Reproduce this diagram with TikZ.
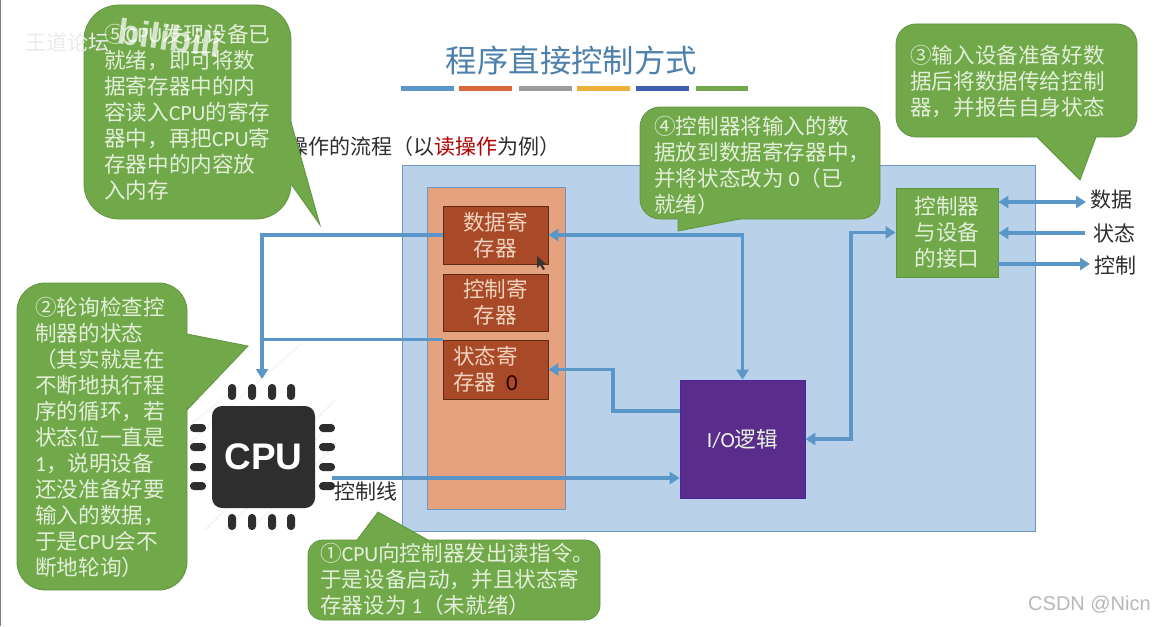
\documentclass[tikz,border=0pt]{standalone}
\usepackage{fontspec}
\setmainfont{Noto Sans CJK SC}
\newfontfamily\latf{Carlito}
\newfontfamily\armf{Liberation Sans}
\usetikzlibrary{arrows.meta}
\definecolor{cgreen}{HTML}{70A84A}
\definecolor{cedge}{HTML}{5F9440}
\definecolor{ctext}{HTML}{E3EFD8}
\definecolor{bluebg}{HTML}{B9D2E9}
\definecolor{blueedge}{HTML}{7197C0}
\definecolor{orbg}{HTML}{E5A27F}
\definecolor{regf}{HTML}{A84A28}
\definecolor{rtext}{HTML}{F0D2BE}
\definecolor{purp}{HTML}{5A2D8C}
\definecolor{wire}{HTML}{5B96C8}
\definecolor{chip}{HTML}{2E2E2E}
\definecolor{barorange}{HTML}{D9693C}
\definecolor{bargray}{HTML}{9C9C9C}
\definecolor{baryellow}{HTML}{EDB13A}
\definecolor{barblue}{HTML}{3F5FAE}
\newcommand{\callout}[6]{%
  \filldraw[calloutshape] (#1,#2) [rounded corners=#5pt] rectangle (#3,#4);
  \filldraw[calloutshape] #6;
}
\tikzset{
  calloutshape/.style={fill=cgreen,draw=cedge,line width=0.8pt},
  patch/.style={draw=cgreen,line width=1.6pt},
  calltext/.style={anchor=north west,inner sep=0pt,align=left,text=ctext,font=\fontsize{21.6}{26}\selectfont},
  darklabel/.style={inner sep=0pt,text=black!82,font=\fontsize{21}{26}\selectfont},
  boxtext/.style={inner sep=0pt,align=center,font=\fontsize{21.6}{26}\selectfont},
  regbox/.style={boxtext,fill=regf,draw=black!45!regf,line width=0.7pt,minimum width=105pt,text=rtext},
  wirearrow/.style={draw=wire,line width=3.6pt,-{Triangle[length=10pt,width=12pt]}},
  wiredouble/.style={draw=wire,line width=3.6pt,{Triangle[length=10pt,width=12pt]}-{Triangle[length=10pt,width=12pt]}},
  wireplain/.style={draw=wire,line width=3.6pt},
  pin/.style={fill=chip,rounded corners=3.8pt},
  ttlbar/.style={line width=5pt},
}
\begin{document}
\begin{tikzpicture}[x=1pt,y=-1pt]
\useasboundingbox (0,0) rectangle (1155,626);
\fill[white] (0,0) rectangle (1155,626);
\draw[black!50,line width=1pt] (0.5,0) -- (0.5,626);
% title
\node[inner sep=0pt,text=wire!85!black,font=\fontsize{31.4}{36}\selectfont] (title) at (571.5,61) {程序直接控制方式};
\draw[ttlbar,color=wire] (401,88.5) -- (454,88.5);
\draw[ttlbar,color=barorange] (459,88.5) -- (512,88.5);
\draw[ttlbar,color=bargray] (519,88.5) -- (572,88.5);
\draw[ttlbar,color=baryellow] (577,88.5) -- (630,88.5);
\draw[ttlbar,color=barblue] (636,88.5) -- (689,88.5);
\draw[ttlbar,color=cgreen] (696,88.5) -- (748,88.5);
\node[darklabel,anchor=east] (sub) at (561,147) {操作的流程（以\textcolor{red!70!black}{读操作}为例）};
% panels
\node[fill=bluebg,draw=blueedge,line width=1pt,minimum width=633pt,minimum height=366pt,inner sep=0pt] (panel) at (718.5,348) {};
\node[fill=orbg,draw=blueedge,line width=1pt,minimum width=138pt,minimum height=322pt,inner sep=0pt] (orp) at (496,348) {};
\node[regbox,minimum height=58pt] (dr) at (495.5,235) {数据寄\\存器};
\node[regbox,minimum height=57pt] (cr) at (495.5,302.5) {控制寄\\存器};
\node[regbox,minimum height=59pt,align=left,text width=85pt] (sr) at (495.5,369.5) {状态寄\\存器\hspace{10pt}\textcolor{black!85!red}{\fontsize{23}{26}\selectfont\latf 0}};
\node[fill=purp,draw=purp!80!blue,line width=0.7pt,minimum width=125pt,minimum height=118pt,inner sep=0pt,text=ctext!70!white,font=\fontsize{21.6}{26}\selectfont] (io) at (742.5,439) {{\latf I/O}逻辑};
\node[boxtext,fill=cgreen,draw=cedge,line width=0.8pt,minimum width=102pt,minimum height=89pt,text=ctext] (ctl) at (947,232.5) {控制器\\与设备\\的接口};
% cursor
\fill[black!80] (537,256) -- (537,268) -- (540,265) -- (543,270) -- (545,269) -- (542,264) -- (546,264) -- cycle;
% CPU
\foreach \a/\b/\c/\d in {190/425/240/385,190/442/300/345,205/530/335/400,225/530/335/420,250/530/335/445}{\draw[black!4,line width=1.5pt] (\a,\b) -- (\c,\d);}
\node[fill=chip,rounded corners=10pt,minimum width=103pt,minimum height=102pt,inner sep=0pt,text=white,font=\fontsize{37}{40}\selectfont\armf\bfseries] (cpu) at (263.5,457) {CPU};
\foreach \x in {232,252,272,291}{
  \fill[pin] (\x-4,384) rectangle (\x+4,400);
  \fill[pin] (\x-4,514) rectangle (\x+4,530);
}
\foreach \y in {428,447,467,486}{
  \fill[pin] (190,\y-4) rectangle (206,\y+4);
  \fill[pin] (319,\y-4) rectangle (335,\y+4);
}
% labels
\node[darklabel,anchor=west] (ldata) at (1090,200) {数据};
\node[darklabel,anchor=west] (lstat) at (1093,233) {状态};
\node[darklabel,anchor=west] (lctrl) at (1094,265) {控制};
\node[darklabel] (lline) at (366,491) {控制线};
% connectors
\coordinate (cputop) at (262,379);
\coordinate (kn) at (613,411);
\coordinate (kr) at (851,300);
\coordinate (cpuout) at (332,478);
\draw[wireplain,-{Triangle[length=10pt,width=12pt]}] (dr.west) -| (cputop);
\draw[wireplain,line width=3.2pt] (sr.north west) -- (sr.north west -| cputop);
\draw[wiredouble] (dr.east) -| (io.north);
\draw[wirearrow] (io.west |- kn) -- (kn) |- (sr.east);
\draw[wiredouble] (io.east) -| (kr) |- (ctl.west);
\draw[wirearrow] (cpuout) -- (cpuout -| io.west);
\draw[wiredouble,shorten >=4pt] (ctl.east |- 1090,202) -- (1090,202);
\draw[wirearrow] (1085,233) -- (ctl.east |- 1085,233);
\draw[wirearrow] (ctl.east |- 1090,264) -- (1090,264);
% callouts
\callout{84}{5}{291}{219}{35}{(291,122) -- (320,225) -- (291,184)}
\draw[patch] (291,125) -- (291,181);
\callout{896}{24}{1137}{137}{20}{(1037,137) -- (1080,180) -- (1096,137)}
\draw[patch] (1040,137) -- (1093,137);
\callout{640}{107}{880}{219}{20}{(678,219) -- (678,231) -- (740,219)}
\draw[patch] (680,219) -- (736,219);
\callout{17}{283}{187}{590}{28}{(187,334) -- (248,346) -- (187,410)}
\draw[patch] (187,337) -- (187,407);
\callout{308}{540}{600}{620}{15}{(357,540) -- (378,512) -- (428,540)}
\draw[patch] (360,540) -- (424,540);
% callout texts
\node[calltext] (t5) at (104,24) {⑤{\latf CPU}发现设备已\\就绪，即可将数\\据寄存器中的内\\容读入{\latf CPU}的寄存\\器中，再把{\latf CPU}寄\\存器中的内容放\\入内存};
\node[calltext] (t3) at (910,45) {③输入设备准备好数\\据后将数据传给控制\\器，并报告自身状态};
\node[calltext] (t4) at (654,116) {④控制器将输入的数\\据放到数据寄存器中，\\并将状态改为 {\latf 0}（已\\就绪）};
\node[calltext] (t2) at (35,297) {②轮询检查控\\制器的状态\\（其实就是在\\不断地执行程\\序的循环，若\\状态位一直是\\{\latf 1}，说明设备\\还没准备好要\\输入的数据，\\于是{\latf CPU}会不\\断地轮询）};
\node[calltext] (t1) at (320,543) {①{\latf CPU}向控制器发出读指令。\\于是设备启动，并且状态寄\\存器设为 {\latf 1}（未就绪）};
% watermarks
\node[inner sep=0pt,text=black!8,font=\fontsize{21}{24}\selectfont] (wm) at (67,42) {王道论坛};
\node[inner sep=0pt,text=white,opacity=0.7,rotate=-8,font=\fontsize{36}{38}\selectfont\armf\bfseries] (bili) at (170,38) {bilibili};
\node[inner sep=0pt,text=black!28,font=\fontsize{20}{24}\selectfont\armf] (csdn) at (1089.5,605) {CSDN @Nicn};
\end{tikzpicture}
\end{document}
